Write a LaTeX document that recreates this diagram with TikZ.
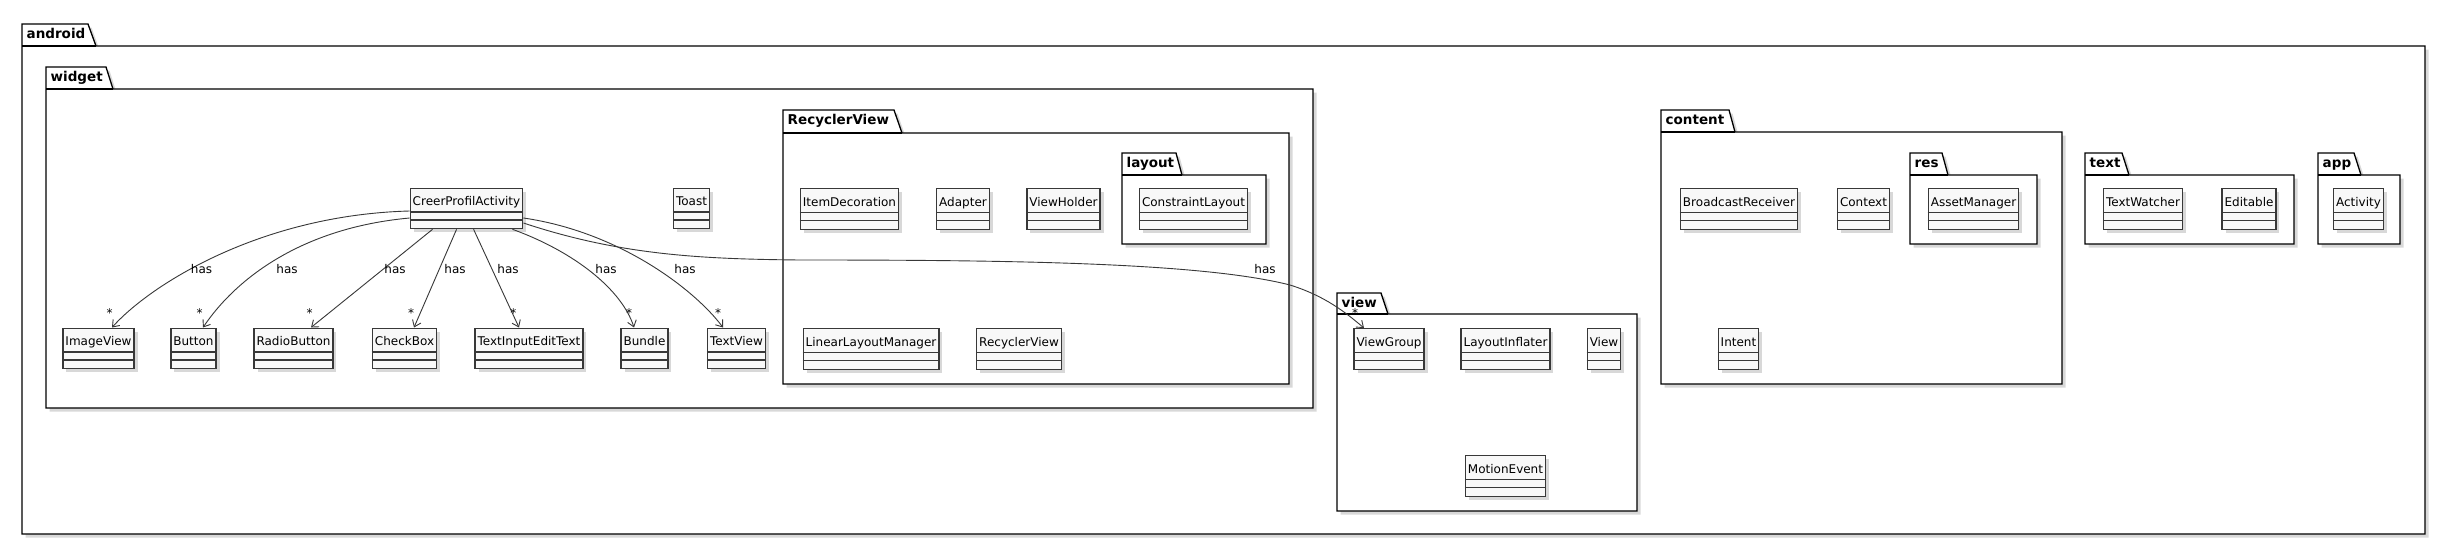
\documentclass[tikz,border=0pt]{standalone}
\usepackage{fontspec}
\setmainfont{DejaVu Sans}
\usetikzlibrary{arrows.meta,shadows}
\definecolor{clsfill}{HTML}{F8F8F8}
\definecolor{clsline}{HTML}{383838}
\tikzset{
  cls/.style={draw=clsline, fill=clsfill, line width=1.3pt, inner xsep=2.5pt, inner ysep=0pt,
    text height=17.5pt, text depth=23pt, font=\fontsize{12}{14}\selectfont, anchor=north,
    drop shadow={shadow xshift=3.5pt, shadow yshift=-3.5pt, opacity=.3}},
  divider/.style={draw=clsline, line width=1.3pt},
  pkg/.style={draw=black, fill=white, line width=1.3pt,
    drop shadow={shadow xshift=3.5pt, shadow yshift=-3.5pt, opacity=.3}},
  pkgline/.style={draw=black, line width=1.3pt},
  pkgtitle/.style={font=\fontsize{13.5}{16}\selectfont\bfseries, anchor=base west, inner sep=0pt},
  hasarrow/.style={draw=clsline, line width=0.9pt, -{Straight Barb[length=6pt,width=9pt]}},
  lbl/.style={font=\fontsize{12}{14}\selectfont, anchor=base, inner sep=0pt},
}
\newcommand\umlcls[4]{%
  \node[cls] (#1) at (#2,#3) {#4};
  \draw[divider] ([yshift=-24.5pt]#1.north west) -- ([yshift=-24.5pt]#1.north east)
    ([yshift=-32.5pt]#1.north west) -- ([yshift=-32.5pt]#1.north east);
}
\newcommand\umlpkg[8]{%
  \draw[pkg] (#1,#4) -- (#2,#4) -- (#3,#5) -- (#6,#5) -- (#6,#7) -- (#1,#7) -- cycle;
  \draw[pkgline] (#1,#5) -- (#3,#5);
  \node[pkgtitle] (pkg#8) at (#1+4.5,#4+14.5) {#8};
}
\begin{document}
\begin{tikzpicture}[x=1pt,y=-1pt]
\useasboundingbox (0,0) rectangle (2445,546);
% packages
\umlpkg{22}{88}{96}{24}{46}{2425}{534}{android}
\umlpkg{46}{106}{113}{67}{89}{1313}{408}{widget}
\umlpkg{783}{894}{902}{110}{133}{1289}{384}{RecyclerView}
\umlpkg{1122}{1176}{1182}{153}{175}{1266}{244}{layout}
\umlpkg{1337}{1381}{1388}{293}{314}{1637}{511}{view}
\umlpkg{1661}{1729}{1735}{110}{132}{2062}{384}{content}
\umlpkg{1910}{1942}{1948}{153}{175}{2037}{244}{res}
\umlpkg{2085}{2122}{2129}{153}{175}{2294}{244}{text}
\umlpkg{2318}{2354}{2361}{153}{175}{2400}{244}{app}
% widget classes
\umlcls{cpa}{466.5}{187.5}{CreerProfilActivity}
\umlcls{toast}{691.5}{187.5}{Toast}
\umlcls{imageview}{98.5}{327.5}{ImageView}
\umlcls{button}{193.5}{327.5}{Button}
\umlcls{radiobutton}{293.5}{327.5}{RadioButton}
\umlcls{checkbox}{404.5}{327.5}{CheckBox}
\umlcls{textinput}{529}{327.5}{TextInputEditText}
\umlcls{bundle}{644.5}{327.5}{Bundle}
\umlcls{textview}{736.5}{327.5}{TextView}
% RecyclerView classes
\umlcls{itemdeco}{849.5}{188}{ItemDecoration}
\umlcls{adapter}{963}{188}{Adapter}
\umlcls{viewholder}{1063.5}{188}{ViewHolder}
\umlcls{constraint}{1193.5}{188}{ConstraintLayout}
\umlcls{llm}{871}{328}{LinearLayoutManager}
\umlcls{recyclerview}{1019}{328}{RecyclerView}
% view classes
\umlcls{viewgroup}{1389}{328}{ViewGroup}
\umlcls{inflater}{1505.5}{328}{LayoutInflater}
\umlcls{viewcls}{1604}{328}{View}
\umlcls{motion}{1505.5}{455}{MotionEvent}
% content classes
\umlcls{broadcast}{1739}{188}{BroadcastReceiver}
\umlcls{context}{1863.5}{188}{Context}
\umlcls{asset}{1973.5}{188}{AssetManager}
\umlcls{intent}{1738.5}{328}{Intent}
% text / app classes
\umlcls{watcher}{2143}{188}{TextWatcher}
\umlcls{editable}{2249}{188}{Editable}
\umlcls{activity}{2358.5}{188}{Activity}
% connectors
\draw[hasarrow] ([yshift=-23.5pt]cpa.north west) .. controls (260,215) and (150,285) .. ([xshift=13.5pt]imageview.north);
\draw[hasarrow] ([yshift=-30.5pt]cpa.north west) .. controls (300,228) and (235,280) .. ([xshift=9.5pt]button.north);
\draw[hasarrow] ([xshift=23pt]cpa.south west) -- ([xshift=17.5pt]radiobutton.north);
\draw[hasarrow] ([xshift=47pt]cpa.south west) -- ([xshift=9.5pt]checkbox.north);
\draw[hasarrow] ([xshift=64pt]cpa.south west) -- ([xshift=-10pt]textinput.north);
\draw[hasarrow] ([xshift=-11pt]cpa.south east) .. controls (575,252) and (622,290) .. ([xshift=-10.5pt]bundle.north);
\draw[hasarrow] ([yshift=-30.5pt]cpa.north east) .. controls (620,232) and (695,290) .. ([xshift=-13.5pt]textview.north);
\draw[hasarrow] ([yshift=-35.5pt]cpa.north east) .. controls (620,255) and (700,259) .. (800,260)
  .. controls (1000,260) and (1200,262) .. (1290,285)
  .. controls (1325,296) and (1345,312) .. ([xshift=-25pt]viewgroup.north);
% labels
\node[lbl] (l1) at (201.5,273.3) {has};
\node[lbl] (l2) at (287,273.3) {has};
\node[lbl] (l3) at (395,273.3) {has};
\node[lbl] (l4) at (455,273.3) {has};
\node[lbl] (l5) at (508,273.3) {has};
\node[lbl] (l6) at (606,273.3) {has};
\node[lbl] (l7) at (685,273.3) {has};
\node[lbl] (l8) at (1265,273.3) {has};
% multiplicities
\node[lbl] (m1) at (109.5,317) {*};
\node[lbl] (m2) at (199.5,317) {*};
\node[lbl] (m3) at (309.5,317) {*};
\node[lbl] (m4) at (411,317) {*};
\node[lbl] (m5) at (513.3,317) {*};
\node[lbl] (m6) at (629,317) {*};
\node[lbl] (m7) at (718,317) {*};
\node[lbl] (m8) at (1355,317) {*};
\end{tikzpicture}
\end{document}
